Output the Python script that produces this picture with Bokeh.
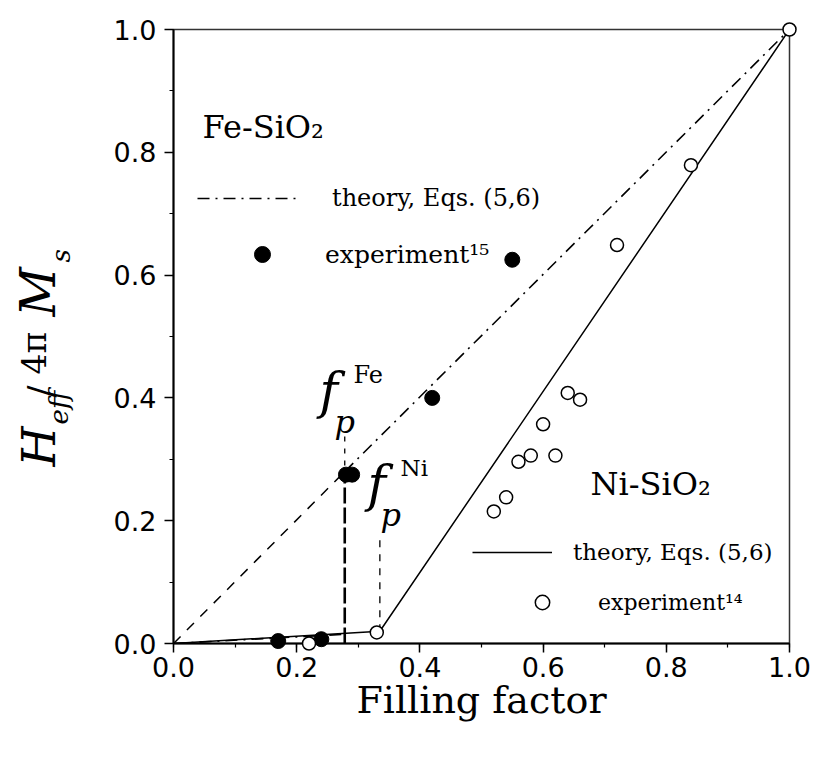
import math
from bokeh.plotting import figure
from bokeh.models import (Range1d, Label, Legend, LegendItem, SingleIntervalTicker,
                          NumeralTickFormatter)
from bokeh.core.properties import value
from bokeh.embed import file_html
from bokeh.resources import INLINE

# ---------------- data ----------------
fe_exp_x = [0.17, 0.24, 0.28, 0.29, 0.42, 0.55]
fe_exp_y = [0.004, 0.007, 0.275, 0.275, 0.40, 0.625]

ni_exp_x = [0.22, 0.33, 0.52, 0.54, 0.56, 0.58, 0.60, 0.62, 0.64, 0.66, 0.72, 0.84, 1.00]
ni_exp_y = [0.000, 0.018, 0.215, 0.238, 0.296, 0.306, 0.357, 0.306, 0.408, 0.397, 0.649, 0.779, 1.000]

fe_fp = 0.278          # percolation threshold, Fe
ni_fp = 0.335          # percolation threshold, Ni

fe_theory_low_x = [0.0, fe_fp]
fe_theory_low_y = [0.0, 0.015]
fe_theory_high_x = [fe_fp, 1.0]
fe_theory_high_y = [0.28, 1.0]
fe_jump_y = [0.0, 0.27]
fe_ref_x = [0.0, fe_fp]
fe_ref_y = [0.0, 0.28]
ni_theory_x = [0.0, ni_fp, 1.0]
ni_theory_y = [0.0, 0.02, 1.0]
fe_mark_y = [0.29, 0.345]
ni_mark_y = [0.02, 0.175]

# ---------------- layout ----------------
W, H = 827, 762
X0, X1 = 173, 789      # pixel of x=0 and x=1
Y0, Y1 = 643, 29       # pixel of y=0 and y=1


def dx(px):
    return (px - X0) / (X1 - X0)


def dy(py):
    return (Y0 - py) / (Y0 - Y1)


SERIF = "DejaVu Serif"
SANS = "DejaVu Sans"

p = figure(width=W, height=H, output_backend="svg", toolbar_location=None,
           x_range=Range1d(0, 1), y_range=Range1d(0, 1),
           min_border_left=X0, min_border_right=W - X1,
           min_border_top=Y1, min_border_bottom=H - Y0)
p.outline_line_color = "#333333"
p.outline_line_width = 1.5
p.grid.visible = False
p.background_fill_color = "white"
p.border_fill_color = "white"

for ax in (p.xaxis[0], p.yaxis[0]):
    ax.ticker = SingleIntervalTicker(interval=0.2, num_minor_ticks=2)
    ax.formatter = NumeralTickFormatter(format="0.0")
    ax.major_label_text_font = SANS
    ax.major_label_text_font_size = "27px"
    ax.major_label_text_color = "black"
    ax.axis_line_color = "black"
    ax.axis_line_width = 2
    ax.major_tick_in = 0
    ax.major_tick_out = 9
    ax.minor_tick_in = 0
    ax.minor_tick_out = 4
    ax.major_tick_line_width = 1.5
    ax.minor_tick_line_width = 1.2
    ax.major_tick_line_color = "black"
    ax.minor_tick_line_color = "black"

p.xaxis.major_label_standoff = 4
p.yaxis.major_label_standoff = 8
p.xaxis.axis_label = "Filling factor"
p.xaxis.axis_label_text_font = SERIF
p.xaxis.axis_label_text_font_size = "38px"
p.xaxis.axis_label_text_font_style = "normal"
p.xaxis.axis_label_text_color = "black"
p.xaxis.axis_label_standoff = -2

# ---------------- lines ----------------
p.line(fe_ref_x, fe_ref_y, line_color="black", line_width=1.5, line_dash="10 9")
fe_th = p.line(fe_theory_low_x + [float("nan")] + fe_theory_high_x,
               fe_theory_low_y + [float("nan")] + fe_theory_high_y,
               line_color="black", line_width=1.6, line_dash="12 6 2 6")
p.line([fe_fp, fe_fp], fe_jump_y, line_color="black", line_width=2.6, line_dash="16 4")
p.line([fe_fp, fe_fp], fe_mark_y, line_color="black", line_width=1.3, line_dash="5 7")
p.line([ni_fp, ni_fp], ni_mark_y, line_color="black", line_width=1.3, line_dash="7 7")
ni_th = p.line(ni_theory_x, ni_theory_y, line_color="black", line_width=1.5)

fe_sc = p.scatter(fe_exp_x, fe_exp_y, marker="circle", size=15,
                  fill_color="black", line_color="black")
ni_sc = p.scatter(ni_exp_x, ni_exp_y, marker="circle", size=13,
                  fill_color="white", line_color="black", line_width=1.5)
fe_sc.level = "overlay"
ni_sc.level = "overlay"

# ---------------- legends (one entry each, placed like the original) ----------------


def legend(label, renderer, left, row_center, gw, gh, standoff, size):
    leg = Legend(items=[LegendItem(label=label, renderers=[renderer])],
                 location=(left - X0, Y0 - (row_center + gh // 2)),
                 glyph_width=gw, glyph_height=gh, label_standoff=standoff,
                 label_height=gh, padding=0, margin=0, spacing=0,
                 border_line_color=None, background_fill_alpha=0,
                 label_text_font=SERIF, label_text_font_size=f"{size}px",
                 label_text_color="black")
    p.add_layout(leg)


legend("theory, Eqs. (5,6)", fe_th, 197, 198, 100, 40, 35, 24)
legend("experiment\u00b9\u2075", fe_sc, 232, 254, 60, 40, 33, 25)
legend("theory, Eqs. (5,6)", ni_th, 472, 552, 80, 36, 21, 23)
legend("experiment\u00b9\u2074", ni_sc, 512, 602, 60, 36, 26, 22)


def lab(px, py, text, size, style="normal"):
    p.add_layout(Label(x=dx(px), y=dy(py), text=text, text_font=SERIF,
                       text_font_size=f"{size}px", text_font_style=style,
                       text_color="black", text_align="left",
                       text_baseline="alphabetic"))


# titles
lab(202, 126, "Fe-SiO\u2082", 32)
lab(590, 483, "Ni-SiO\u2082", 32)

# percolation labels
lab(319, 390, "f", 50, "italic")
lab(334, 421, "p", 32, "italic")
lab(353, 374, "Fe", 24)
lab(367, 483, "f", 50, "italic")
lab(380, 514, "p", 32, "italic")
lab(400, 467, "Ni", 23)

# y-axis label  H_eff / 4 pi M_s  (rotated text glyphs, drawn above the frame clip)
A = math.pi / 2


def vtext(px, py, text, size, style):
    r = p.text(x=[dx(px)], y=[dy(py)], text=[text], angle=A,
               text_font=value(SERIF), text_font_style=value(style),
               text_font_size=value(f"{size}px"), text_color="black",
               text_align="left", text_baseline="alphabetic")
    r.level = "overlay"


vtext(38, 466, "H", 46, "italic")
vtext(58, 424, "eff", 26, "italic")
vtext(40, 397, "/", 36, "normal")
vtext(34, 374, "4\u03c0", 33, "normal")
vtext(37, 316, "M", 48, "italic")
vtext(60, 262, "s", 26, "italic")

open("out.html", "w").write(file_html(p, INLINE))
